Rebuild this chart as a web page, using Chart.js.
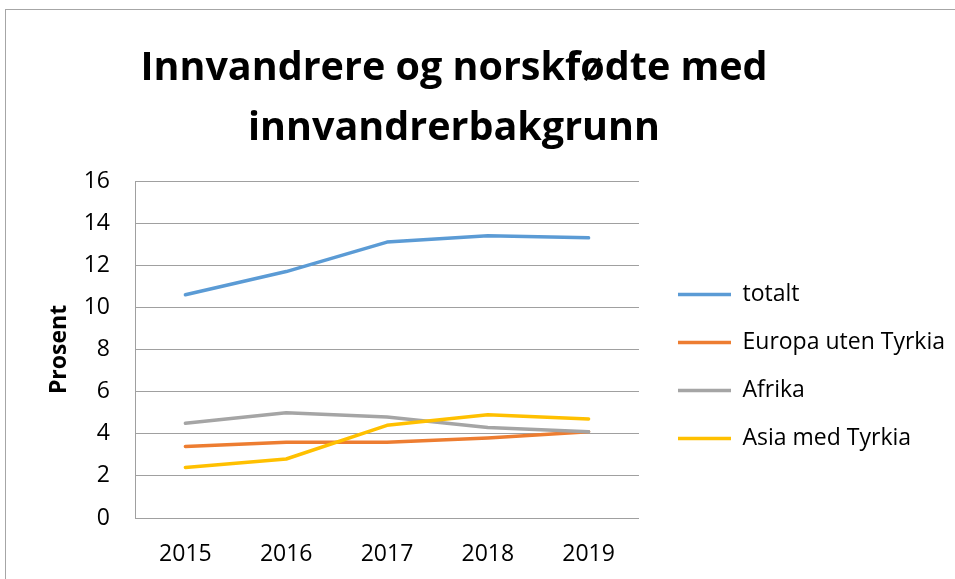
<!DOCTYPE html>
<html>
<head>
<meta charset="utf-8">
<script src="https://cdn.jsdelivr.net/npm/chart.js@4.4.1/dist/chart.umd.min.js"></script>
<style>
  html, body { margin:0; padding:0; background:#fff; overflow:hidden; }
  #wrap { position:relative; width:955px; height:579px; }
  #frame { position:absolute; left:5px; top:9px; width:1200px; height:1200px; border:1px solid #a6a6a6; box-sizing:border-box; }
  canvas { position:absolute; left:0; top:0; }
</style>
</head>
<body>
<div id="wrap">
  <div id="frame"></div>
  <canvas id="chart" width="955" height="579"></canvas>
</div>
<script>
const years = ['2015','2016','2017','2018','2019'];
const totalt = [10.6, 11.7, 13.1, 13.4, 13.3];
const europa = [3.4, 3.6, 3.6, 3.8, 4.1];
const afrika = [4.5, 5.0, 4.8, 4.3, 4.1];
const asia = [2.4, 2.8, 4.4, 4.9, 4.7];
const titleLines = ['Innvandrere og norskfødte med', 'innvandrerbakgrunn'];
const yTitle = 'Prosent';

const font = '"Open Sans", "DejaVu Sans", sans-serif';
const gridColor = '#a0a0a0';

// title drawn by hand so it can sit off-centre like the original
const titlePlugin = {
    id:'chartTitle',
    afterDraw(chart){
        const c = chart.ctx;
        c.save();
        c.font = 'bold 39.5px ' + font;
        c.fillStyle = '#000';
        c.textAlign = 'center';
        c.textBaseline = 'alphabetic';
        titleLines.forEach((t,i)=> c.fillText(t, 454, 80 + i*60));
        c.restore();
    }
};

function line(label, data, color, order){
    return {label, data, borderColor:color, backgroundColor:color, borderWidth:3.5,
        pointRadius:0, pointHoverRadius:0, tension:0, fill:false,
        borderCapStyle:'round', borderJoinStyle:'round', order};
}

const ctx = document.getElementById('chart').getContext('2d');
const chart = new Chart(ctx, {
    type:'line',
    data:{labels:years, datasets:[
        line('totalt', totalt, '#5b9bd5', 4),
        line('Europa uten Tyrkia', europa, '#ed7d31', 3),
        line('Afrika', afrika, '#a5a5a5', 2),
        line('Asia med Tyrkia', asia, '#ffc000', 1)
    ]},
    options:{
        responsive:false,
        animation:false,
        layout:{padding:{top:181, bottom:11, left:0, right:0}},
        plugins:{
            title:{display:false},
            tooltip:{enabled:false},
            legend:{
                position:'right',
                fullSize:false,
                maxWidth:400,
                // empty title only used as a spacer to push the items down
                title:{display:true, text:'', font:{size:10}, padding:{top:11, bottom:11}},
                labels:{
                    usePointStyle:true, pointStyle:'line', pointStyleWidth:53,
                    padding:25, color:'#000',
                    font:{family:font, size:23},
                    sort:(a,b)=>a.datasetIndex-b.datasetIndex
                }
            }
        },
        scales:{
            x:{
                offset:true,
                grid:{display:false, drawTicks:false},
                border:{display:true, color:gridColor, width:1},
                ticks:{color:'#000', padding:23, font:{family:font, size:23}},
                afterFit:s=>{ s.height = 50; }
            },
            y:{
                min:0, max:16,
                grid:{color:gridColor, lineWidth:1, drawTicks:false},
                border:{display:true, color:gridColor, width:1},
                ticks:{stepSize:2, color:'#000', padding:25, font:{family:font, size:23}},
                title:{display:true, text:yTitle, color:'#000', padding:{top:46, bottom:0},
                    font:{family:font, size:23, weight:'bold'}},
                afterFit:s=>{ s.width = 135; }
            },
            gap:{
                type:'linear', position:'right', display:true,
                grid:{display:false}, border:{display:false}, ticks:{display:false},
                afterFit:s=>{ s.width = 14; }
            }
        }
    },
    plugins:[titlePlugin]
});
</script>
</body>
</html>
